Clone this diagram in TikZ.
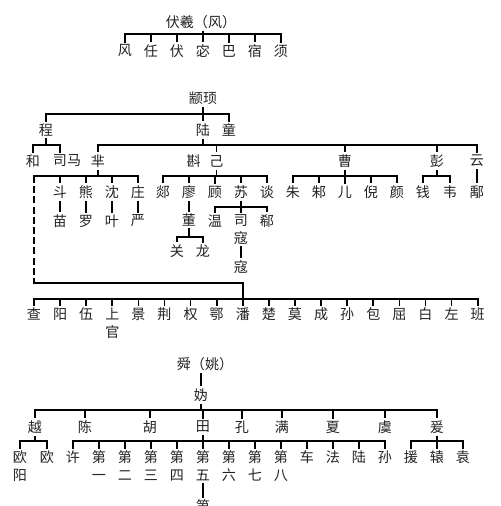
\documentclass[tikz,border=0pt]{standalone}
\usepackage{fontspec}
\setmainfont{Noto Sans CJK SC}
\definecolor{INK}{HTML}{222222}

\begin{document}
\begin{tikzpicture}[
  x=0.02cm, y=-0.02cm,
  xing/.style={font=\fontsize{8}{10}\selectfont, text=INK, inner sep=1.5pt, align=center},
  link/.style={draw=black, line width=1pt, line cap=rect},
  broken/.style={link, line cap=butt, dash pattern=on 4pt off 1.8pt},
]
\useasboundingbox (0,0) rectangle (500,506);

% Fuxi (Feng)
\node[xing] (fx) at (201,22) {伏羲（风）};
\coordinate (bar1) at (0,34);
\foreach \n [count=\i] in {风,任,伏,宓,巴,宿,须} {
  \node[xing] (f\i) at ({125+26*(\i-1)},51) {\n};
  \draw[link] (f\i.north |- bar1) -- (f\i.north);
}
\draw[link] (f1.north |- bar1) -- (f7.north |- bar1);
\draw[link] (fx.south -| f4.north) -- (f4.north |- bar1);

% Zhuanxu
\node[xing] (zx) at (203,98) {颛顼};
\coordinate (bar2) at (0,114);
\node[xing] (cheng) at (46,130) {程};
\node[xing] (lu) at (203,130) {陆};
\node[xing] (tong) at (229,130) {童};
\draw[link] (cheng.north) -- (cheng.north |- bar2) -- (tong.north |- bar2) -- (tong.north);
\draw[link] (zx.south) -- (lu.north);

% Cheng
\coordinate (bar3) at (0,145);
\node[xing] (he) at (33,161) {和};
\node[xing] (sima) at (67,161) {司马};
\coordinate (simaT) at ([xshift=-4pt]sima.north);
\draw[link] (cheng.south) -- (cheng.south |- bar3);
\draw[link] (he.north) -- (he.north |- bar3) -- (simaT |- bar3) -- (simaT);

% Lu Zhong
\node[xing] (mi) at (98,161) {芈};
\node[xing] (zj) at (205,161) {斟\hspace{5pt}己};
\coordinate (jiT) at ([xshift=6.5pt]zj.north);
\node[xing] (cao) at (345,161) {曹};
\node[xing] (peng) at (437,161) {彭};
\node[xing] (yun) at (477,161) {云};
\draw[link] (lu.south) -- (lu.south |- bar3);
\draw[link] (mi.north) -- (mi.north |- bar3) -- (yun.north |- bar3) -- (yun.north);
\foreach \k in {jiT, cao.north, peng.north} \draw[link] (\k |- bar3) -- (\k);

% Mi
\coordinate (bar4) at (0,176);
\coordinate (mix) at (34,176);
\foreach \a/\b [count=\i] in {斗/苗,熊/罗,沈/叶,庄/严} {
  \node[xing] (m\i) at ({34+26*\i},192) {\a};
  \node[xing] (mm\i) at ({34+26*\i},221) {\b};
  \draw[link] (m\i.south) -- (mm\i.north);
}
\draw[link] (mi.south) -- (mi.south |- bar4);
\draw[link] (mix) -- (m4.north |- bar4) -- (m4.north);
\foreach \i in {1,2,3} \draw[link] (m\i.north |- bar4) -- (m\i.north);

% Zhen Ji
\foreach \n [count=\i] in {郯,廖,顾,苏,谈} {
  \node[xing] (z\i) at ({163+26*(\i-1)},192) {\n};
  \draw[link] (z\i.north |- bar4) -- (z\i.north);
}
\draw[link] (z1.north |- bar4) -- (z5.north |- bar4);
\draw[link] (jiT |- zj.south) -- (jiT |- bar4);

% Liao -> Dong
\node[xing] (dong) at (189,220) {董};
\draw[link] (z2.south) -- (dong.north);
\coordinate (bar6) at (0,237);
\node[xing] (guan) at (177,251) {关};
\node[xing] (long) at (203,251) {龙};
\draw[link] (dong.south) -- (dong.south |- bar6);
\draw[link] (guan.north) -- (guan.north |- bar6) -- (long.north |- bar6) -- (long.north);

% Su
\coordinate (bar7) at (0,207);
\node[xing] (wen) at (215,221) {温};
\node[xing] (sikou) at (241,229.5) {司\\寇};
\node[xing] (xi) at (267,221) {郗};
\node[xing] (kou) at (241,267) {寇};
\draw[link] (z4.south) -- (z4.south |- bar7);
\draw[link] (wen.north) -- (wen.north |- bar7) -- (xi.north |- bar7) -- (xi.north);
\draw[link] (sikou.north |- bar7) -- (sikou.north);
\draw[link] (sikou.south) -- (kou.north);

% Cao, Peng, Yun
\foreach \n [count=\i] in {朱,邾,儿,倪,颜} {
  \node[xing] (c\i) at ({293+26*(\i-1)},192) {\n};
  \draw[link] (c\i.north |- bar4) -- (c\i.north);
}
\draw[link] (c1.north |- bar4) -- (c5.north |- bar4);
\draw[link] (cao.south) -- (cao.south |- bar4);
\node[xing] (qian) at (423,192) {钱};
\node[xing] (wei) at (450,192) {韦};
\draw[link] (peng.south) -- (peng.south |- bar4);
\draw[link] (qian.north) -- (qian.north |- bar4) -- (wei.north |- bar4) -- (wei.north);
\node[xing] (yu) at (477,192) {鄅};
\draw[link] (yun.south) -- (yu.north);

% lower row
\coordinate (bar5) at (0,299);
\coordinate (bend) at (34,283);
\foreach \n [count=\i] in {查,阳,伍,上\\官,景,荆,权,鄂,潘,楚,莫,成,孙,包,屈,白,左,班} {
  \node[xing, anchor=north] (lo\i) at ({34+26.1*(\i-1)},305) {\n};
  \draw[link] (lo\i.north |- bar5) -- (lo\i.north);
}
\draw[link] (lo1.north |- bar5) -- (lo18.north |- bar5);
\draw[broken] (mix) -- (bend);
\draw[link] (bend) -- (bend -| lo9.north) -- (lo9.north);

% Shun (Yao)
\node[xing] (shun) at (205,364) {舜（姚）};
\node[xing] (gui) at (201,395) {妫};
\draw[link] (gui.north |- shun.south) -- (gui.north);
\coordinate (bar8) at (0,410);
\foreach \n/\x [count=\i] in {越/35,陈/85,胡/150,田/203,孔/242,满/282,夏/333,虞/385,爰/437} {
  \node[xing] (s\i) at (\x,427) {\n};
  \draw[link] (s\i.north |- bar8) -- (s\i.north);
}
\draw[link] (s1.north |- bar8) -- (s9.north |- bar8);
\draw[link] (gui.south) -- (gui.south |- bar8);

% Yue
\coordinate (bar9) at (0,441);
\node[xing, anchor=north] (ouy) at (20,448) {欧\\阳};
\node[xing, anchor=north] (ou) at (47,448) {欧};
\draw[link] (s1.south) -- (s1.south |- bar9);
\draw[link] (ouy.north) -- (ouy.north |- bar9) -- (ou.north |- bar9) -- (ou.north);

% Tian
\foreach \n [count=\i] in {许,第\\一,第\\二,第\\三,第\\四,第\\五,第\\六,第\\七,第\\八,车,法,陆,孙} {
  \node[xing, anchor=north] (t\i) at ({73+26*(\i-1)},448) {\n};
  \draw[link] (t\i.north |- bar9) -- (t\i.north);
}
\draw[link] (t1.north |- bar9) -- (t13.north |- bar9);
\draw[link] (s4.south) -- (s4.south |- bar9);
\node[xing, anchor=north] (di) at (203,497) {第};
\draw[link] (t6.south) -- (di.north);

% Yuan
\node[xing, anchor=north] (y1) at (411,448) {援};
\node[xing, anchor=north] (y2) at (437,448) {辕};
\node[xing, anchor=north] (y3) at (463,448) {袁};
\draw[link] (s9.south) -- (y2.north);
\draw[link] (y1.north) -- (y1.north |- bar9) -- (y3.north |- bar9) -- (y3.north);

\end{tikzpicture}
\end{document}
